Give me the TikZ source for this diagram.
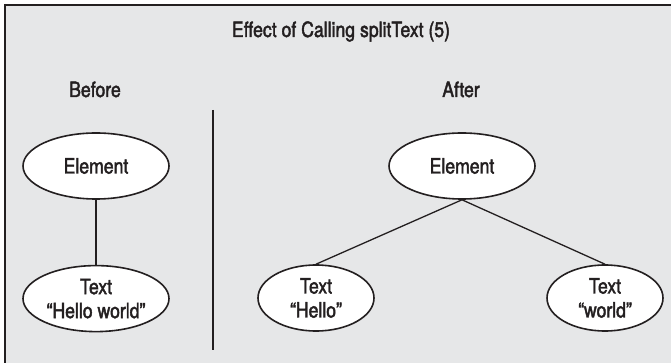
\documentclass[tikz,border=0pt]{standalone}
\usepackage{fontspec}
\setmainfont{TeX Gyre Heros}[FakeStretch=0.84, FakeBold=2]
\usepackage{xcolor}
\usepackage{tikz}
\usetikzlibrary{positioning,shapes.geometric}
\definecolor{panelgrey}{RGB}{230,231,232}
\definecolor{inkdark}{RGB}{35,31,32}
\tikzset{
  obj/.style={ellipse, draw=inkdark, line width=1.6pt, fill=white, align=center, inner sep=-10pt, minimum width=146pt, minimum height=66pt, font=\fontsize{21}{24}\selectfont, text=inkdark},
  objsmall/.style={obj, minimum width=116pt},
  lbl/.style={font=\fontsize{21}{24}\selectfont, text=inkdark, anchor=base},
  link/.style={line width=1.3pt, draw=inkdark},
}

\begin{document}
\begin{tikzpicture}[x=1pt,y=-1pt]
    \useasboundingbox (0,0) rectangle (671,363);
    \fill[panelgrey] (5,5) rectangle (671,363);
    \draw[inkdark, line width=2.6pt] (4,5) -- (671,5);
    \draw[inkdark, line width=1.8pt] (5,4) -- (5,363);
    \node[lbl] (title) at (341,37) {Effect of Calling splitText (5)};
    \node[lbl] (before) at (95,97) {Before};
    \node[lbl] (after) at (461,97) {After};
    \coordinate (divtop) at (213,110);
    \coordinate (divbot) at (213,350);
    \draw[inkdark, line width=2.2pt] (divtop) -- (divbot);
    % before
    \node[obj] (elA) at (96,166) {Element};
    \node[obj, below=65pt of elA] (txtA) {Text\\“Hello world”};
    \draw[link] (elA) -- (txtA);
    % after
    \node[obj] (elB) at (462,166) {Element};
    \node[objsmall] (txtB) at (316,298) {Text\\“Hello”};
    \node[objsmall] (txtC) at (605,298) {Text\\“world”};
    \foreach \t in {txtB,txtC}{\draw[link] (elB.south) -- (\t.north);}
\end{tikzpicture}
\end{document}
